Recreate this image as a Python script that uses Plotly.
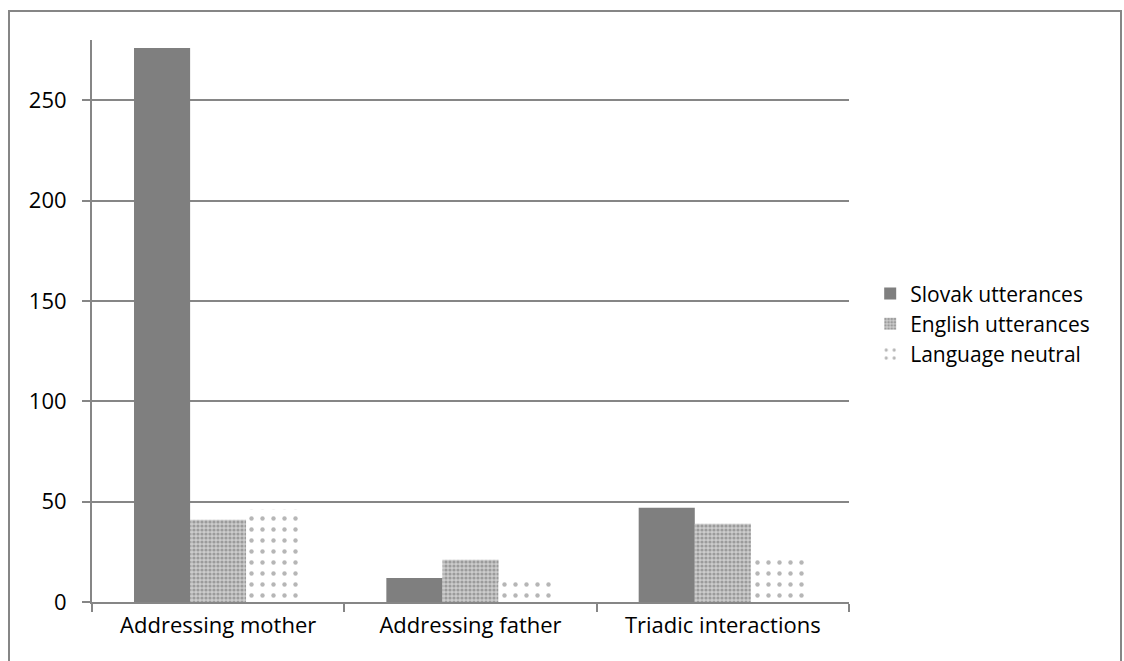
import plotly.graph_objects as go

categories = ["Addressing mother", "Addressing father", "Triadic interactions"]
slovak = [276, 12, 47]
english = [41, 21, 39]
neutral = [46, 10, 23]
series_names = ["Slovak utterances", "English utterances", "Language neutral"]
y_ticks = [0, 50, 100, 150, 200, 250]

W, H = 1124, 661
L, R, T, B = 92, 275, 40, 59
pw, ph = W - L - R, H - T - B

fig = go.Figure()
fig.add_bar(x=categories, y=slovak, name=series_names[0],
            marker=dict(color="#7f7f7f", line=dict(width=0)))
fig.add_bar(x=categories, y=english, name=series_names[1],
            marker=dict(color="#c0c0c0", line=dict(width=0),
                        pattern=dict(shape=".", fgcolor="#6a6a6a", bgcolor="#cccccc",
                                     size=4, solidity=0.5, fillmode="overlay")))
fig.add_bar(x=categories, y=neutral, name=series_names[2],
            marker=dict(color="white", line=dict(width=0),
                        pattern=dict(shape=".", fgcolor="#6e6e6e", bgcolor="white",
                                     size=11, solidity=0.13, fillmode="overlay")))

font = "Open Sans, Liberation Sans, sans-serif"
fs = 22
fig.update_layout(
    width=W, height=H,
    margin=dict(l=L, r=R, t=T, b=B),
    paper_bgcolor="white", plot_bgcolor="white",
    barmode="group", bargap=0.333, bargroupgap=0,
    font=dict(family=font, size=fs, color="#000000"),
    showlegend=True,
    legend=dict(x=1.028, y=0.495, xanchor="left", yanchor="middle",
                font=dict(size=fs - 1), tracegroupgap=0, itemsizing="constant",
                itemwidth=30, bgcolor="rgba(0,0,0,0)"),
    xaxis=dict(type="category", tickson="boundaries", ticks="outside", ticklen=8,
               tickcolor="#868686", tickwidth=2, showline=True, linecolor="#868686",
               linewidth=2, showgrid=False, tickfont=dict(size=fs),
               ticklabelstandoff=3),
    yaxis=dict(range=[0, 280], tickvals=y_ticks, ticks="outside", ticklen=8,
               tickcolor="#868686", tickwidth=2, showline=True, linecolor="#868686",
               linewidth=2, gridcolor="#868686", gridwidth=1.5, zeroline=False,
               tickfont=dict(size=fs), ticklabelstandoff=11),
    shapes=[dict(type="rect", xref="paper", yref="paper",
                 x0=(9 - L) / pw, x1=(1121 - L) / pw,
                 y0=(H - B - 700) / ph, y1=(H - B - 11) / ph,
                 line=dict(color="#868686", width=2), fillcolor="rgba(0,0,0,0)",
                 layer="below")],
)

fig.write_html("out.html")
